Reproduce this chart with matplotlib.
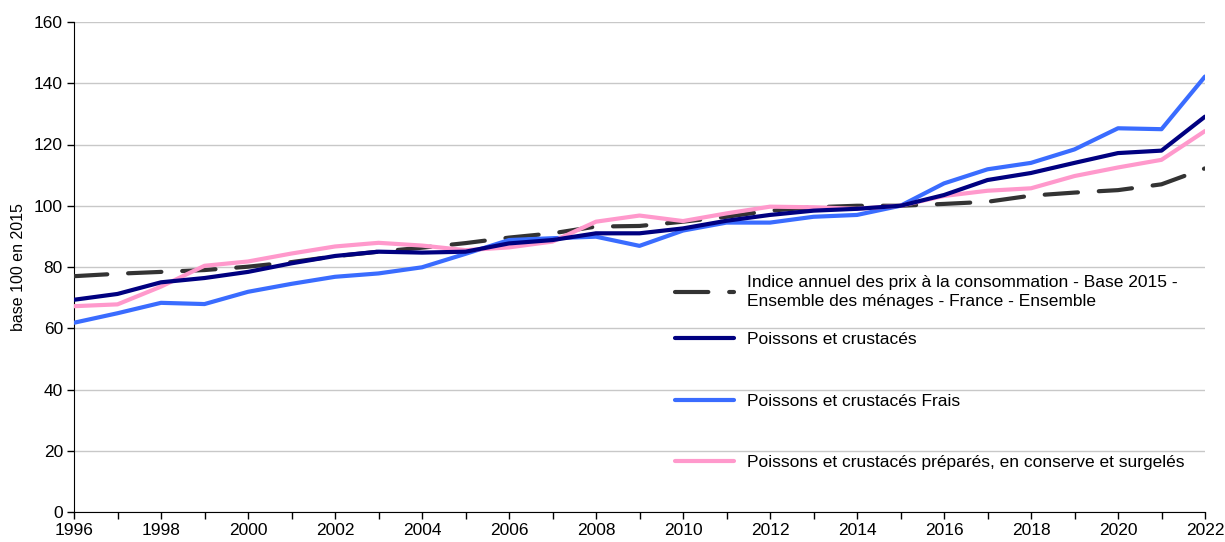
import matplotlib.pyplot as plt

plt.rcParams['font.family'] = ['Liberation Sans', 'DejaVu Sans']

years = list(range(1996, 2023))

# Indice annuel des prix a la consommation (base 2015)
ipc = [77.0, 77.8, 78.4, 79.0, 80.1, 81.6, 83.5, 85.0, 86.3, 87.8,
       89.6, 91.0, 93.2, 93.4, 94.8, 96.4, 98.4, 99.5, 100.0, 100.0,
       100.6, 101.3, 103.3, 104.3, 105.1, 107.0, 112.2]
poissons = [69.3, 71.2, 75.0, 76.4, 78.4, 81.2, 83.6, 85.0, 84.7, 85.0,
            87.7, 88.8, 91.0, 91.0, 92.6, 95.1, 97.0, 98.4, 99.0, 100.0,
            103.5, 108.4, 110.7, 114.0, 117.2, 118.0, 129.1]
frais = [61.8, 64.9, 68.3, 67.9, 71.9, 74.5, 76.8, 77.9, 79.9, 84.3,
         88.8, 89.4, 89.9, 86.9, 91.9, 94.5, 94.5, 96.4, 97.0, 100.0,
         107.3, 111.9, 114.0, 118.4, 125.3, 125.0, 142.2]
prepares = [67.2, 67.8, 73.6, 80.4, 81.8, 84.4, 86.7, 87.9, 87.0, 85.5,
            86.4, 88.3, 94.8, 96.8, 95.0, 97.5, 99.7, 99.5, 99.0, 100.0,
            103.2, 104.9, 105.7, 109.7, 112.5, 115.0, 124.4]

labels = [
    "Indice annuel des prix à la consommation - Base 2015 -\nEnsemble des ménages - France - Ensemble",
    "Poissons et crustacés",
    "Poissons et crustacés Frais",
    "Poissons et crustacés préparés, en conserve et surgelés",
]

fig = plt.figure(figsize=(12.25, 5.42), dpi=100)
ax = fig.add_axes([74 / 1225, 1 - 512 / 542, (1205 - 74) / 1225, (512 - 22) / 542])

lw = 3.0
l0, = ax.plot(years, ipc, color='#333333', linewidth=lw, dashes=(8, 5),
              dash_capstyle='round', label=labels[0], zorder=3)
l1, = ax.plot(years, poissons, color='#000080', linewidth=lw, label=labels[1],
              solid_capstyle='round', zorder=4)
l2, = ax.plot(years, frais, color='#3a6cff', linewidth=lw, label=labels[2],
              solid_capstyle='round', zorder=3)
l3, = ax.plot(years, prepares, color='#ff99cc', linewidth=lw, label=labels[3],
              solid_capstyle='round', zorder=3)

ax.set_xlim(1996, 2022)
ax.set_ylim(0, 160)
ax.set_xticks(range(1996, 2023, 2))
ax.set_xticks(years, minor=True)
ax.set_yticks(range(0, 161, 20))
ax.grid(axis='y', color='#c8c8c8', linewidth=1.0)
ax.set_axisbelow(True)

for s in ['top', 'right']:
    ax.spines[s].set_visible(False)
ax.tick_params(axis='both', which='both', direction='out', length=5, width=1,
               labelsize=12.5, pad=3)
ax.tick_params(axis='x', which='minor', labelbottom=False)
ax.set_ylabel("base 100 en 2015", fontsize=11.5, labelpad=6)

leg_kw = dict(frameon=False, fontsize=12.5, handlelength=3.4,
              handletextpad=0.75, borderaxespad=0)
leg1 = ax.legend(handles=[l0], loc='center left',
                 bbox_to_anchor=(0.525, 0.449), **leg_kw)
leg1.get_texts()[0].set_linespacing(1.3)
ax.add_artist(leg1)
ax.legend(handles=[l1, l2, l3], loc='center left',
          bbox_to_anchor=(0.525, 0.2265), labelspacing=2.65, **leg_kw)

fig.savefig("out.png", dpi=100)
